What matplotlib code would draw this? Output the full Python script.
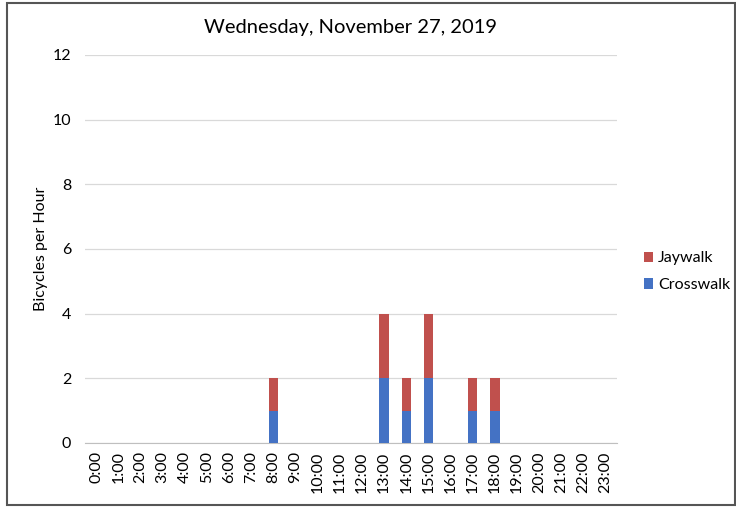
import matplotlib.pyplot as plt
from matplotlib.patches import Rectangle

hours = [f"{h}:00" for h in range(24)]
crosswalk = [0, 0, 0, 0, 0, 0, 0, 0, 1, 0, 0, 0, 0, 2, 1, 2, 0, 1, 1, 0, 0, 0, 0, 0]
jaywalk = [0, 0, 0, 0, 0, 0, 0, 0, 1, 0, 0, 0, 0, 2, 1, 2, 0, 1, 1, 0, 0, 0, 0, 0]

plt.rcParams['font.family'] = ['Lato', 'DejaVu Sans']

fig = plt.figure(figsize=(7.36, 5.08), dpi=100)
ax = fig.add_axes([0.1155, 0.128, 0.7225, 0.764])

x = range(len(hours))
ax.bar(x, crosswalk, width=0.42, color='#4472C4', label='Crosswalk', zorder=3)
ax.bar(x, jaywalk, width=0.42, bottom=crosswalk, color='#C0504D', label='Jaywalk', zorder=3)

ax.set_ylim(0, 12)
ax.set_yticks(range(0, 13, 2))
ax.set_xlim(-0.5, 23.5)
ax.set_xticks(list(x))
ax.set_xticklabels(hours, rotation=90, fontsize=11.5)
ax.tick_params(axis='y', labelsize=11.5, length=0, pad=10)
ax.tick_params(axis='x', length=0, pad=6)
ax.grid(axis='y', color='#d9d9d9', linewidth=0.9, zorder=0)
for s in ['top', 'right', 'left']:
    ax.spines[s].set_visible(False)
ax.spines['bottom'].set_color('#bfbfbf')
ax.set_ylabel('Bicycles per Hour', fontsize=11.5, labelpad=3)
ax.set_title('Wednesday, November 27, 2019', fontsize=14.5, pad=16)

handles, labels = ax.get_legend_handles_labels()
fig.legend(handles[::-1], labels[::-1], loc='center left', bbox_to_anchor=(0.855, 0.465),
           frameon=False, fontsize=11.5, handlelength=0.6, handleheight=0.6,
           handletextpad=0.3, labelspacing=0.8)

fig.patches.append(Rectangle((0.009, 0.005), 0.99, 0.989, transform=fig.transFigure,
                             fill=False, edgecolor='#555555', linewidth=1.5))

fig.savefig('out.png', dpi=100)
